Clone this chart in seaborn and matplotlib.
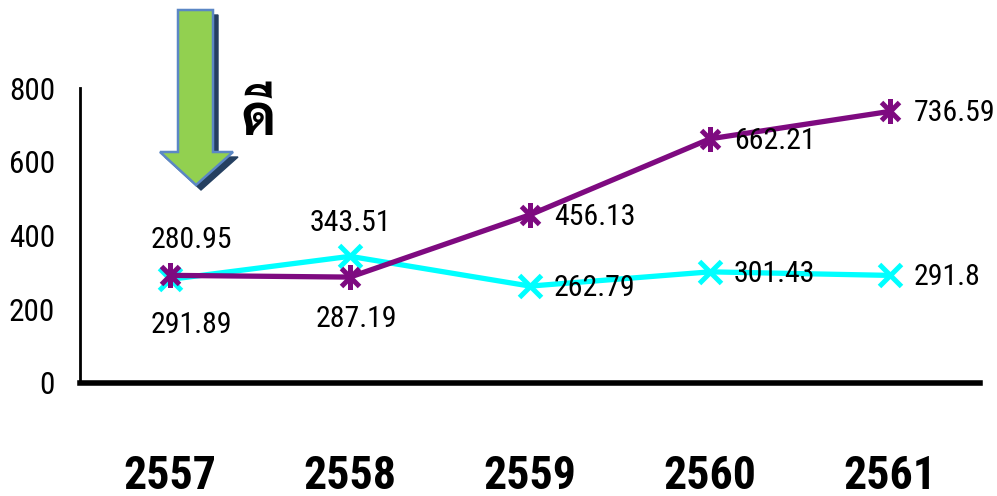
import numpy as np
import pandas as pd
import matplotlib
matplotlib.use("Agg")
import matplotlib.pyplot as plt
import seaborn as sns
from matplotlib import font_manager
from matplotlib.path import Path
from matplotlib.patches import Polygon
from matplotlib.transforms import Affine2D

# ---- data ----
years = ["2557", "2558", "2559", "2560", "2561"]
cyan_values = [280.95, 343.51, 262.79, 301.43, 291.8]
purple_values = [291.89, 287.19, 456.13, 662.21, 736.59]
y_ticks = [0, 200, 400, 600, 800]
arrow_label = "ดี"

cyan_label_pos = ["above", "above", "right", "right", "right"]
purple_label_pos = ["below", "below", "right", "right", "right"]

sns.set_style("white")

def pick(names, default="DejaVu Sans"):
    for n in names:
        try:
            font_manager.findfont(font_manager.FontProperties(family=n), fallback_to_default=False)
            return n
        except Exception:
            pass
    return default

narrow = pick(["Arial Narrow", "Liberation Sans Narrow", "Roboto Condensed", "Archivo Narrow",
               "Asap Condensed"])
bold_narrow = pick(["Roboto Condensed", "Barlow Condensed", "Asap Condensed", "Archivo Narrow"])
thai_font = pick(["Sarabun", "Noto Sans Thai Looped", "Noto Sans Thai", "Prompt", "Kanit",
                  "Anuphan", "Athiti"])

plt.rcParams["font.family"] = [narrow, "DejaVu Sans"]
for k in ["text.color", "axes.labelcolor", "xtick.color", "ytick.color"]:
    plt.rcParams[k] = "black"

W, H = 997, 496
fig = plt.figure(figsize=(W / 100, H / 100), dpi=100)
ax = fig.add_axes([80 / W, 1 - 383 / H, 900 / W, (383 - 88) / H])

df = pd.DataFrame({"year": years, "cyan": cyan_values, "purple": purple_values})

asterisk = Path([(0, -1), (0, 1), (-0.72, -0.72), (0.72, 0.72), (-0.72, 0.72), (0.72, -0.72)],
                [Path.MOVETO, Path.LINETO, Path.MOVETO, Path.LINETO, Path.MOVETO, Path.LINETO])

sns.lineplot(data=df, x="year", y="cyan", ax=ax, color="#00FFFF", lw=3.8,
             marker="x", markersize=16, markeredgewidth=3.6, markeredgecolor="#00FFFF",
             sort=False, zorder=3)
sns.lineplot(data=df, x="year", y="purple", ax=ax, color="#7E0A80", lw=3.8,
             marker=asterisk, markersize=18, markeredgewidth=3.6, markeredgecolor="#7E0A80",
             markerfacecolor="none", sort=False, zorder=4)

offsets = {"above": ((21, 39), "center", "center"),
           "below": ((21, -50), "center", "center"),
           "right": ((24, -2), "left", "center")}

def label(values, poss):
    for i, (v, p) in enumerate(zip(values, poss)):
        (dx, dy), ha, va = offsets[p]
        if p == "above" and i == 1:
            dx, dy = 0, 33
        if p == "below" and i == 1:
            dx, dy = 6, -42
        ax.annotate(f"{v:g}", (i, v), xytext=(dx, dy), textcoords="offset pixels",
                    ha=ha, va=va, fontsize=21.5, color="black", zorder=5)

label(cyan_values, cyan_label_pos)
label(purple_values, purple_label_pos)

ax.set_xlim(-0.5, len(years) - 0.5)
ax.set_ylim(0, 800)
ax.set_yticks(y_ticks)
ax.set_yticklabels([str(t) for t in y_ticks], fontsize=22.5)
ax.set_xlabel("")
ax.set_ylabel("")

ax.set_xticks(range(len(years)))
ax.set_xticklabels(years, fontsize=33, fontweight="bold", family=[bold_narrow, "DejaVu Sans"])
ax.set_xticks(np.arange(-0.5, len(years)), minor=True)
ax.tick_params(axis="x", which="major", length=0, pad=51)
ax.tick_params(axis="x", which="minor", length=12, width=2.2, direction="out", color="black")
ax.tick_params(axis="y", which="major", length=7, width=3, direction="out", color="black", pad=11)

sns.despine(ax=ax, top=True, right=True)
ax.spines["left"].set_linewidth(2)
ax.spines["left"].set_color("black")
ax.spines["bottom"].set_linewidth(4)
ax.spines["bottom"].set_color("black")
ax.grid(False)

# ---- arrow (pixel coordinates, top-left origin) ----
px = Affine2D().scale(1 / W, -1 / H).translate(0, 1) + fig.transFigure
arrow_pts = np.array([(178, 10), (213, 10), (213, 152), (233, 152), (196, 185),
                      (160, 152), (178, 152)])
shadow = Polygon(arrow_pts + np.array([5, 5]), closed=True, transform=px,
                 facecolor="#243F60", edgecolor="#243F60", lw=1)
main = Polygon(arrow_pts, closed=True, transform=px,
               facecolor="#92D050", edgecolor="#5B87C5", lw=1.8)
fig.patches.extend([shadow, main])

fig.text(258 / W, 1 - 135 / H, arrow_label, ha="center", va="baseline",
         fontsize=40, fontweight="bold", family=[thai_font, "DejaVu Sans"], color="black")

fig.savefig("out.png", dpi=100)
